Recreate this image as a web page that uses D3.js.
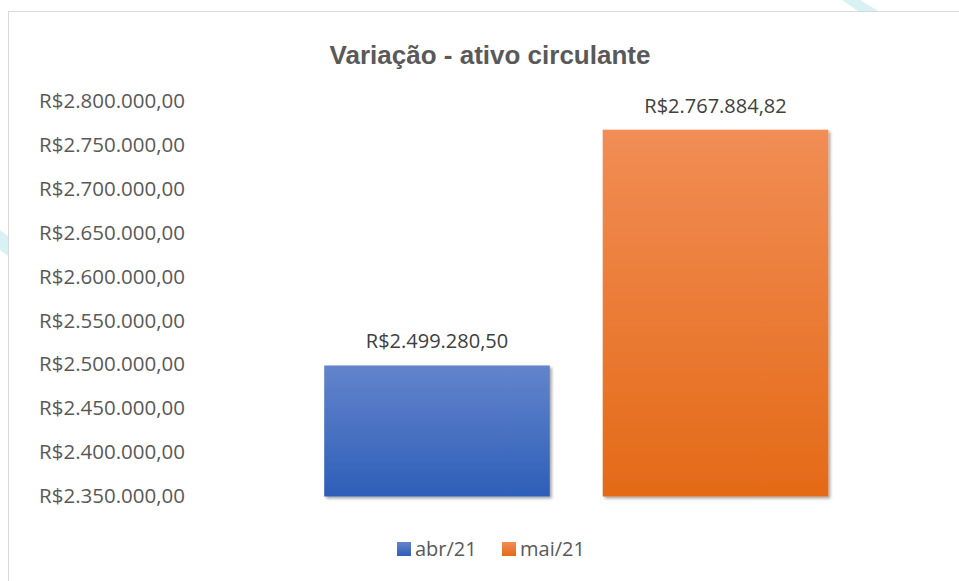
<!DOCTYPE html>
<html>
<head>
<meta charset="utf-8">
<script src="https://cdn.jsdelivr.net/npm/d3@7"></script>
<style>
  html, body { margin: 0; padding: 0; background: #fff; }
  svg { display: block; }
</style>
</head>
<body>
<div id="chart"></div>
<script>
const categories = ["abr/21", "mai/21"];
const values = [2499280.50, 2767884.82];
const yTicks = [2350000, 2400000, 2450000, 2500000, 2550000, 2600000, 2650000, 2700000, 2750000, 2800000];
const chartTitle = "Variação - ativo circulante";

const W = 959, H = 581;
const gradients = [
  { id: "gBlue", top: "#6384cc", bottom: "#2e5fb8" },
  { id: "gOrange", top: "#f18d55", bottom: "#e46a17" }
];

const brl = v => "R$" + v.toLocaleString("pt-BR", { minimumFractionDigits: 2, maximumFractionDigits: 2 });

const svg = d3.select("#chart").append("svg")
  .attr("width", W)
  .attr("height", H)
  .attr("viewBox", `0 0 ${W} ${H}`);

const defs = svg.append("defs");
gradients.forEach(g => {
  const lg = defs.append("linearGradient")
    .attr("id", g.id)
    .attr("x1", 0).attr("y1", 0).attr("x2", 0).attr("y2", 1);
  lg.append("stop").attr("offset", "0%").attr("stop-color", g.top);
  lg.append("stop").attr("offset", "100%").attr("stop-color", g.bottom);
});
defs.append("filter")
  .attr("id", "shadow")
  .attr("x", "-10%").attr("y", "-10%").attr("width", "130%").attr("height", "130%")
  .append("feDropShadow")
  .attr("dx", 2).attr("dy", 2)
  .attr("stdDeviation", 1.8)
  .attr("flood-color", "#000")
  .attr("flood-opacity", 0.35);

// faint background decoration behind the chart frame
svg.append("polygon")
  .attr("points", "842,0 860,0 878,11 858,11")
  .attr("fill", "#d8f1f5");
svg.append("polygon")
  .attr("points", "0,230 8,236 8,256 0,250")
  .attr("fill", "#d8f1f5");

// chart frame
svg.append("rect")
  .attr("x", 8.5).attr("y", 11.5)
  .attr("width", W).attr("height", H)
  .attr("fill", "#fff")
  .attr("stroke", "#d9d9d9");

svg.append("text")
  .attr("x", 490)
  .attr("y", 64)
  .attr("text-anchor", "middle")
  .attr("font-family", "'Liberation Sans Narrow', 'Arial Narrow', 'Liberation Sans', sans-serif")
  .attr("font-weight", "bold")
  .attr("font-size", 26)
  .attr("fill", "#595959")
  .text(chartTitle);

const x = d3.scaleBand()
  .domain(categories)
  .range([297.75, 854.75])
  .paddingInner(0.19)
  .paddingOuter(0.095);

const y = d3.scaleLinear()
  .domain([2350000, 2800000])
  .range([496.5, 101.5]);

const yAxis = svg.append("g")
  .attr("transform", "translate(185,0)")
  .call(d3.axisLeft(y).tickValues(yTicks).tickSize(0).tickPadding(0).tickFormat(brl));
yAxis.select(".domain").remove();
yAxis.selectAll("text")
  .attr("font-family", "'Open Sans', sans-serif")
  .attr("font-size", 20.5)
  .attr("fill", "#595959")
  .attr("dy", "0.3em");

const data = categories.map((c, i) => ({ cat: c, value: values[i], grad: gradients[i].id }));

svg.append("g").selectAll("rect")
  .data(data)
  .enter()
  .append("rect")
  .attr("x", d => x(d.cat))
  .attr("y", d => y(d.value))
  .attr("width", x.bandwidth())
  .attr("height", d => y(2350000) - y(d.value))
  .attr("fill", d => `url(#${d.grad})`)
  .attr("filter", "url(#shadow)");

svg.append("g").selectAll("text")
  .data(data)
  .enter()
  .append("text")
  .attr("x", d => x(d.cat) + x.bandwidth() / 2)
  .attr("y", d => y(d.value) - 24)
  .attr("dy", "0.35em")
  .attr("text-anchor", "middle")
  .attr("font-family", "'Open Sans', sans-serif")
  .attr("font-size", 20)
  .attr("fill", "#404040")
  .text(d => brl(d.value));

// legend
const legendX = d3.scaleOrdinal().domain(categories).range([397, 502]);
const legend = svg.append("g").selectAll("g")
  .data(data)
  .enter()
  .append("g")
  .attr("transform", d => `translate(${legendX(d.cat)},542)`);
legend.append("rect")
  .attr("width", 14).attr("height", 14)
  .attr("fill", d => `url(#${d.grad})`);
legend.append("text")
  .attr("x", 18)
  .attr("y", 7)
  .attr("dy", "0.35em")
  .attr("font-family", "'Open Sans', sans-serif")
  .attr("font-size", 20)
  .attr("fill", "#595959")
  .text(d => d.cat);
</script>
</body>
</html>
